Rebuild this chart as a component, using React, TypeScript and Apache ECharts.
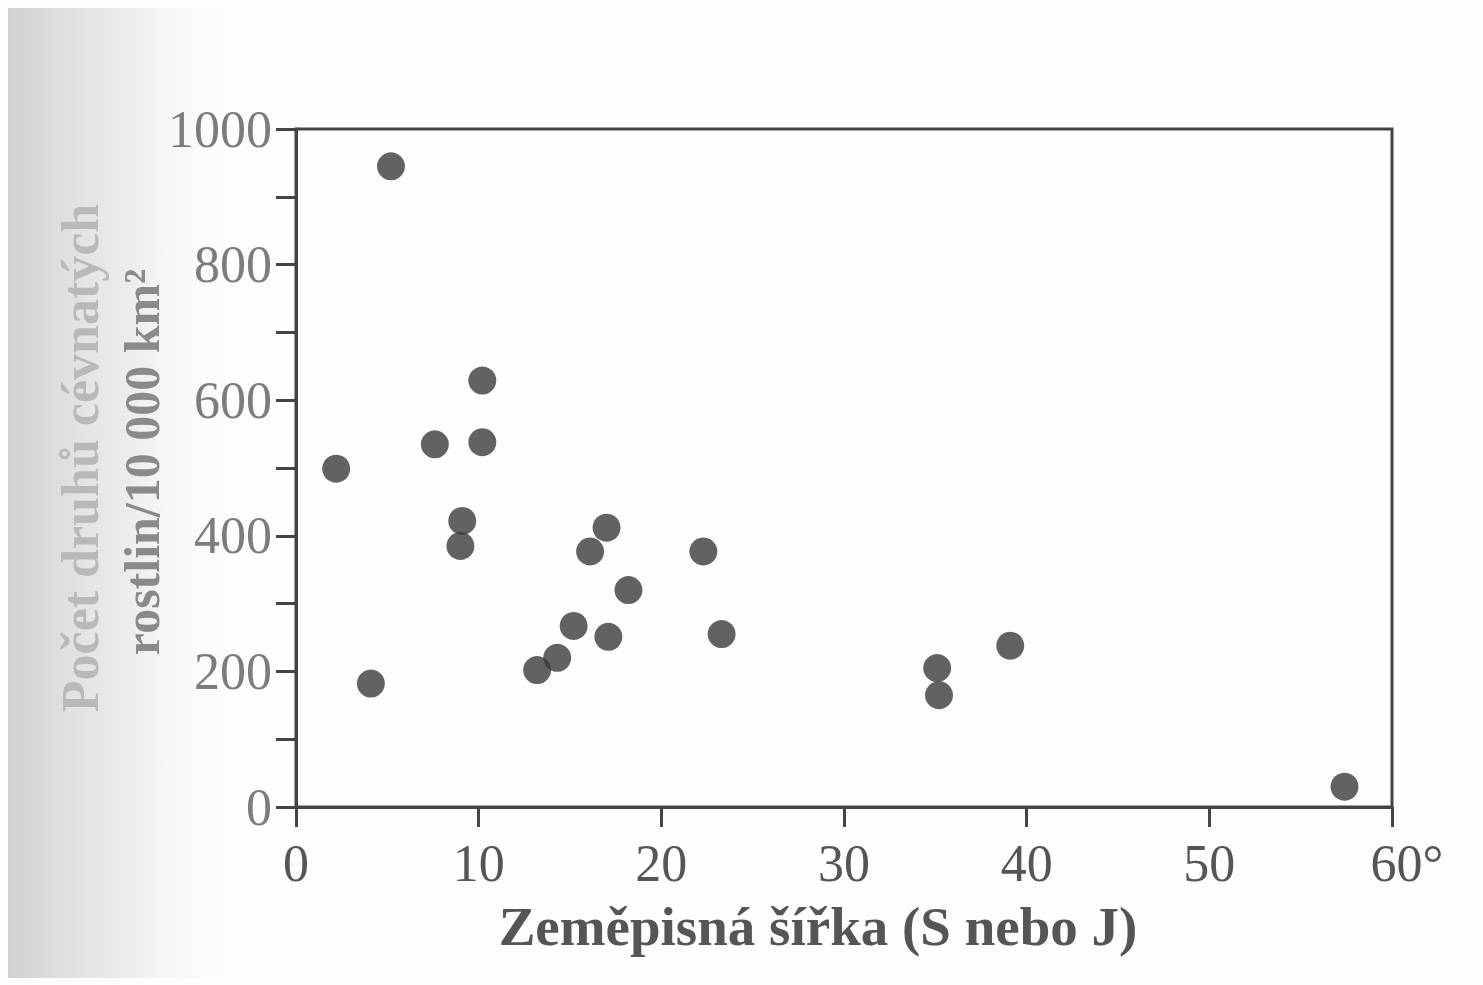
import React, { useEffect, useRef } from "react";
import * as echarts from "echarts";

const latitude = [5.2, 2.2, 4.1, 7.6, 10.2, 10.2, 9.1, 9.0, 13.2, 14.3, 15.2, 16.1, 17.0, 17.1, 18.2, 22.3, 23.3, 35.1, 35.2, 39.1, 57.4];
const species = [945, 499, 182, 535, 629, 538, 422, 385, 202, 220, 267, 377, 412, 251, 320, 377, 255, 205, 165, 238, 30];
const xTicks = [0, 10, 20, 30, 40, 50, 60];
const yTicks = [0, 200, 400, 600, 800, 1000];

const xTitle = "Zeměpisná šířka (S nebo J)";
const yTitle1 = "Počet druhů cévnatých";
const yTitle2 = "rostlin/10 000 km²";

export default function App() {
  const ref = useRef<HTMLDivElement>(null);
  useEffect(() => {
    if (!ref.current) return;
    const chart = echarts.init(ref.current, null, { renderer: "svg" });
    const serif = "'Liberation Serif', 'DejaVu Serif', serif";
    chart.setOption({
      animation: false,
      backgroundColor: "#fdfdfd",
      graphic: [
        {
          type: "rect",
          z: -10,
          shape: { x: 8, y: 8, width: 240, height: 970 },
          style: {
            fill: new echarts.graphic.LinearGradient(0, 0, 1, 0, [
              { offset: 0, color: "rgba(190,190,195,0.7)" },
              { offset: 0.5, color: "rgba(215,215,218,0.45)" },
              { offset: 1, color: "rgba(255,255,255,0)" },
            ]),
          },
        },
        {
          type: "text",
          x: 80,
          y: 458,
          rotation: Math.PI / 2,
          style: {
            text: yTitle1,
            font: `bold 52px ${serif}`,
            fill: "#b9b9bb",
            align: "center",
            verticalAlign: "middle",
          },
        },
        {
          type: "text",
          x: 142,
          y: 462,
          rotation: Math.PI / 2,
          style: {
            text: yTitle2,
            font: `bold 50px ${serif}`,
            fill: "#8a8a8c",
            align: "center",
            verticalAlign: "middle",
          },
        },
        {
          type: "text",
          x: 818,
          y: 926,
          style: {
            text: xTitle,
            font: `bold 55px ${serif}`,
            fill: "#555",
            align: "center",
            verticalAlign: "middle",
          },
        },
      ],
      grid: {
        left: 296,
        right: 91,
        top: 129,
        bottom: 178,
        show: true,
        borderColor: "#444",
        borderWidth: 3,
        backgroundColor: "transparent",
      },
      xAxis: {
        type: "value",
        min: 0,
        max: 60,
        interval: 10,
        axisLine: { show: true, lineStyle: { color: "#444", width: 3 } },
        axisTick: { show: true, length: 20, lineStyle: { color: "#444", width: 3 } },
        splitLine: { show: false },
        axisLabel: {
          margin: 30,
          fontFamily: serif,
          fontSize: 52,
          color: "#555",
          formatter: (v: number) => (v === 60 ? "{d|60°}" : xTicks.includes(v) ? String(v) : ""),
          rich: { d: { fontFamily: serif, fontSize: 52, color: "#555", padding: [0, 0, 0, 30] } },
        },
      },
      yAxis: {
        type: "value",
        min: 0,
        max: 1000,
        interval: 100,
        axisLine: { show: true, lineStyle: { color: "#444", width: 3 } },
        axisTick: { show: true, length: 20, lineStyle: { color: "#444", width: 3 } },
        splitLine: { show: false },
        axisLabel: {
          margin: 24,
          fontFamily: serif,
          fontSize: 52,
          color: "#7c7c7e",
          formatter: (v: number) => (yTicks.includes(v) ? String(v) : ""),
        },
      },
      series: [
        {
          type: "scatter",
          symbol: "circle",
          symbolSize: 28,
          itemStyle: { color: "#3d393b" },
          data: latitude.map((x, i) => [x, species[i]]),
        },
      ],
    });
    return () => chart.dispose();
  }, []);
  return (
    <div
      ref={ref}
      style={{ position: "fixed", left: 0, top: 0, width: 1483, height: 985 }}
    />
  );
}
